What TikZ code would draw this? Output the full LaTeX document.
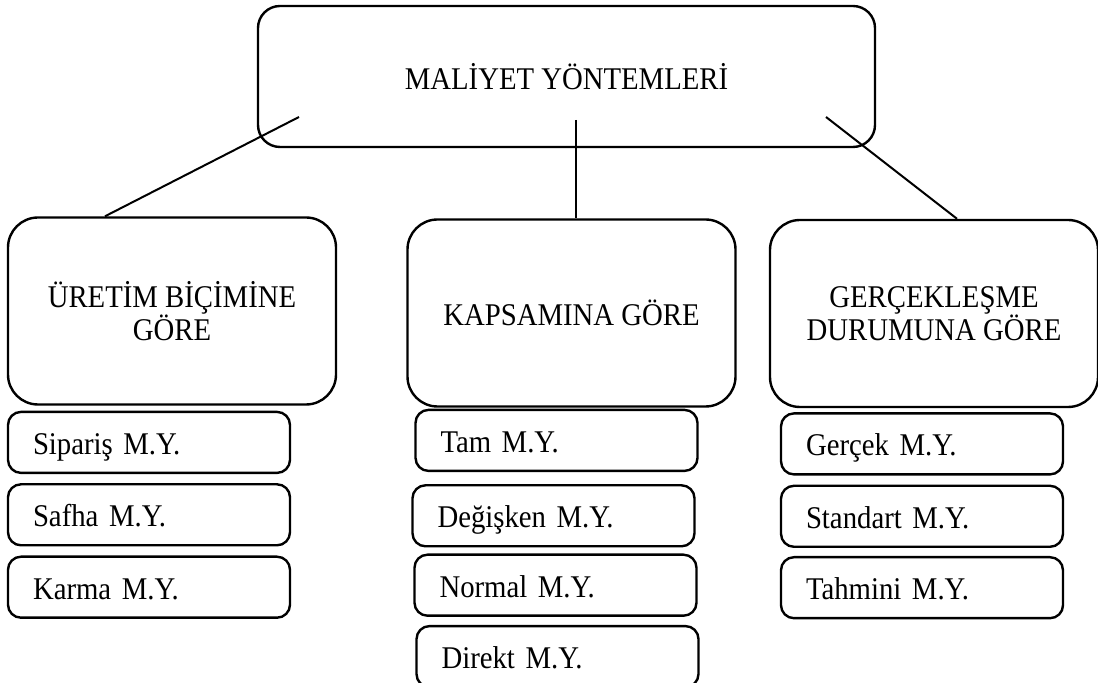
\documentclass[tikz,border=0pt]{standalone}
\usepackage{fontspec}
\setmainfont{Liberation Serif}[FakeStretch=0.91]
\usepackage{tikz}
\usetikzlibrary{positioning}

\begin{document}
\begin{tikzpicture}[
  font=\fontsize{15.8}{16.5}\selectfont,
  block/.style={draw, line width=1.2pt, rounded corners=13pt, align=center, inner sep=3pt},
  topbox/.style={block, rounded corners=11pt, minimum width=308.5pt, minimum height=70.5pt},
  groupbox/.style={block, rounded corners=15pt, minimum width=164pt, minimum height=93.5pt},
  itembox/.style={draw, line width=1.2pt, rounded corners=6.5pt, align=left, inner xsep=12.5pt, inner ysep=0pt, text width=116pt, text height=14pt, text depth=2pt, minimum height=30.5pt},
  line/.style={line width=1pt}
]
\useasboundingbox (0,0) rectangle (549pt,-341.5pt);

% Row 1: top
\node[topbox] (maliyet) at (283.25pt,-38.25pt) {MALİYET YÖNTEMLERİ};

% Row 2: groups
\node[groupbox] (uretim) at (86pt,-155.5pt) {ÜRETİM BİÇİMİNE\\GÖRE};
\node[groupbox] (kapsam) at (285.75pt,-156.5pt) {KAPSAMINA GÖRE};
\node[groupbox] (gercek) at (467pt,-156.75pt) {GERÇEKLEŞME\\DURUMUNA GÖRE};

% Row 3: items
\node[itembox, anchor=north west] (siparis) at ([yshift=-2.5pt]uretim.south west) {Sipariş M.Y.};
\node[itembox, below=4.5pt of siparis] (safha) {Safha M.Y.};
\node[itembox, below=4.5pt of safha] (karma) {Karma M.Y.};

\node[itembox, anchor=north west] (tam) at ([xshift=4pt, yshift=-0.5pt]kapsam.south west) {Tam M.Y.};
\node[itembox, below=6pt of tam, xshift=-1.5pt] (degisken) {Değişken M.Y.};
\node[itembox, below=3pt of degisken, xshift=1pt] (normal) {Normal M.Y.};
\node[itembox, below=4pt of normal, xshift=1pt] (direkt) {Direkt M.Y.};

\node[itembox, anchor=north west] (gercekmy) at ([xshift=5.5pt, yshift=-2pt]gercek.south west) {Gerçek M.Y.};
\node[itembox, below=4.5pt of gercekmy] (standart) {Standart M.Y.};
\node[itembox, below=4pt of standart] (tahmini) {Tahmini M.Y.};

% Connections
\coordinate (mL) at ([shift={(-133.75pt,-20.25pt)}]maliyet.center);
\coordinate (mC) at ([shift={(4.75pt,-21.75pt)}]maliyet.center);
\coordinate (mR) at ([shift={(129.75pt,-20.25pt)}]maliyet.center);
\draw[line] (mL) -- ([xshift=-33.5pt]uretim.north);
\draw[line] (mC) -- ([xshift=2.25pt]kapsam.north);
\draw[line] (mR) -- ([xshift=11.5pt]gercek.north);

\end{tikzpicture}
\end{document}
